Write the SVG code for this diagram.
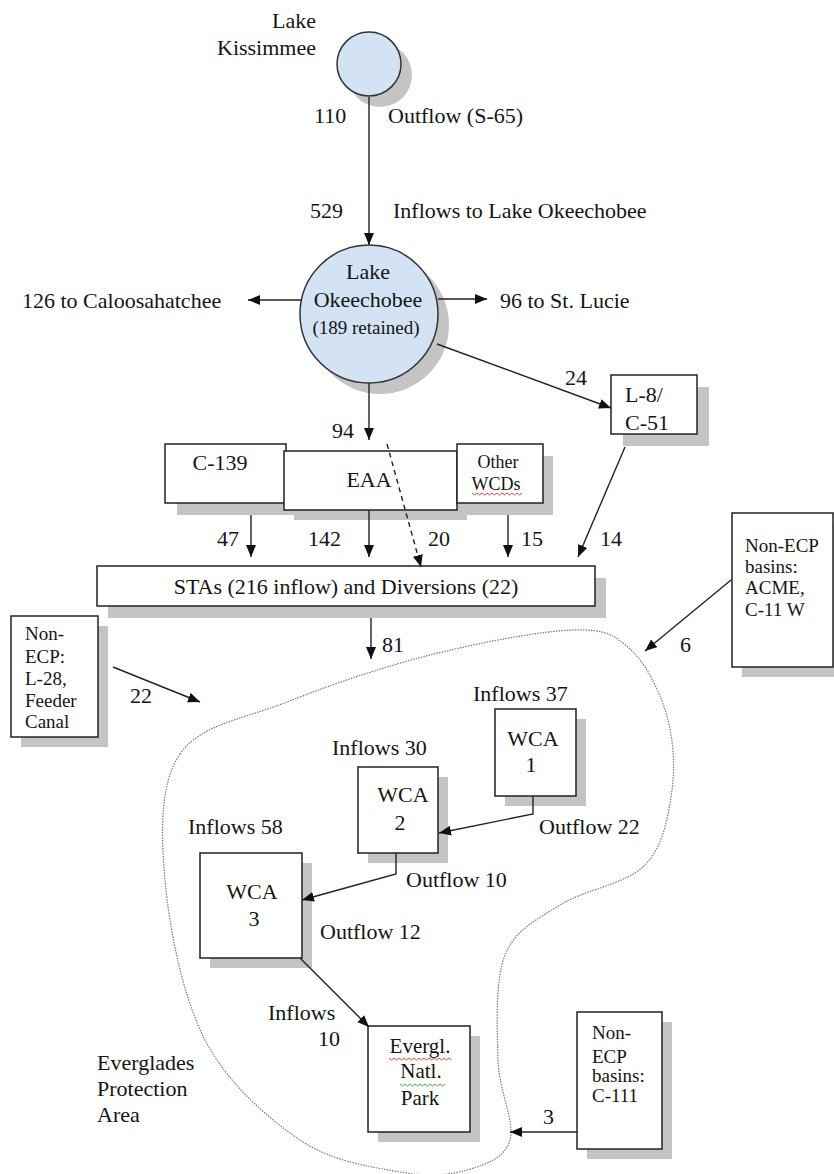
<svg xmlns="http://www.w3.org/2000/svg" width="834" height="1174" viewBox="0 0 834 1174">
<defs>
<marker id="ah" markerUnits="userSpaceOnUse" markerWidth="13" markerHeight="11" refX="12" refY="5" orient="auto">
<path d="M0,0 L12,5 L0,10 z" fill="#111"/>
</marker>
</defs>
<style>
text{font-family:"Liberation Serif","Times New Roman",serif;fill:#151515;font-size:22px}
.sm{font-size:19px}
.md{font-size:21px}
.box{fill:#fff;stroke:#222;stroke-width:1.5}
.sh{fill:#c4c4c4}
.lake{fill:#d3e3f3;stroke:#333;stroke-width:1.5}
.c{fill:none;stroke:#222;stroke-width:1.4}
.dash{stroke-dasharray:5 4}
.mid{text-anchor:middle}
.end{text-anchor:end}
.sq{fill:none;stroke-width:0.9}
</style>
<rect width="834" height="1174" fill="#fff"/>

<g id="boundary">
<path d="M180,754 C200.3,724.3 245.3,718.5 287,702 C328.7,685.5 382.3,667 430,655 C477.7,643 539.7,631 573,630 C606.3,629 614.5,635.2 630,649 C645.5,662.8 659,689.5 666,713 C673,736.5 675.5,764.7 672,790 C668.5,815.3 663.7,845.8 645,865 C626.3,884.2 583.3,890 560,905 C536.7,920 515.3,929.2 505,955 C494.7,980.8 497.2,1029.2 498,1060 C498.8,1090.8 515.2,1121.7 510,1140 C504.8,1158.3 485.3,1164.7 467,1170 C448.7,1175.3 427.8,1177 400,1172 C372.2,1167 332.5,1162 300,1140 C267.5,1118 227.5,1083.3 205,1040 C182.5,996.7 169.2,927.7 165,880 C160.8,832.3 159.7,783.7 180,754 Z" fill="none" stroke="#7a7a7a" stroke-width="1.2" stroke-dasharray="1.5 1.2"/>
</g>

<g id="lake-kissimmee">
<circle class="sh" cx="380" cy="75" r="32"/>
<circle class="lake" cx="369" cy="64" r="32"/>
<text class="end" x="316" y="28">Lake</text>
<text class="end" x="316" y="55">Kissimmee</text>
</g>

<g id="labels-top">
<text x="314" y="123">110</text>
<text x="388" y="123">Outflow (S-65)</text>
<text x="310" y="218">529</text>
<text x="393" y="218">Inflows to Lake Okeechobee</text>
<text x="22" y="308">126 to Caloosahatchee</text>
<text x="500" y="308">96 to St. Lucie</text>
<text x="565" y="385">24</text>
<text x="332" y="438">94</text>
</g>

<g id="lake-okeechobee">
<circle class="sh" cx="380" cy="325" r="69"/>
<circle class="lake" cx="369" cy="314" r="69"/>
<text class="mid" x="368" y="279">Lake</text>
<text class="mid" x="368" y="307">Okeechobee</text>
<text class="mid sm" x="366" y="334">(189 retained)</text>
</g>

<g id="l8-c51">
<rect class="sh" x="623" y="387" width="86" height="59"/>
<rect class="box" x="611" y="375" width="86" height="59"/>
<text x="625" y="402">L-8/</text>
<text x="625" y="430">C-51</text>
</g>

<g id="c139">
<rect class="sh" x="177" y="456" width="121" height="59"/>
<rect class="box" x="165" y="444" width="121" height="59"/>
<text class="mid" x="220" y="470">C-139</text>
</g>

<g id="eaa">
<rect class="sh" x="294" y="461" width="173" height="59"/>
<rect class="box" x="284" y="451" width="173" height="59"/>
<text class="mid" x="369" y="487">EAA</text>
</g>

<g id="other-wcds">
<rect class="sh" x="467" y="456" width="86" height="59"/>
<rect class="box" x="457" y="444" width="86" height="59"/>
<text class="mid" x="498" y="468" style="font-size:18px">Other</text>
<text class="mid" x="496" y="490" style="font-size:18px">WCDs</text>
<path class="sq" stroke="#e03030" d="M472,493 l2.5,2 l2.5,-2 l2.5,2 l2.5,-2 l2.5,2 l2.5,-2 l2.5,2 l2.5,-2 l2.5,2 l2.5,-2 l2.5,2 l2.5,-2 l2.5,2 l2.5,-2 l2.5,2 l2.5,-2 l2.5,2 l2.5,-2 l2.5,2 l2.5,-2"/>
</g>

<g id="flow-labels">
<text x="217" y="546">47</text>
<text x="308" y="546">142</text>
<text x="428" y="546">20</text>
<text x="521" y="546">15</text>
<text x="600" y="546">14</text>
<text x="382" y="652">81</text>
<text x="680" y="652">6</text>
<text x="130" y="703">22</text>
</g>

<g id="stas">
<rect class="sh" x="108" y="578" width="498" height="40"/>
<rect class="box" x="97" y="566" width="498" height="40"/>
<text class="mid" x="346" y="594">STAs (216 inflow) and Diversions (22)</text>
</g>

<g id="non-ecp-l28">
<rect class="sh" x="21" y="626" width="87" height="121"/>
<rect class="box" x="11" y="616" width="87" height="121"/>
<text class="sm" x="25" y="640">Non-</text>
<text class="sm" x="25" y="663">ECP:</text>
<text class="sm" x="25" y="685">L-28,</text>
<text class="sm" x="25" y="707">Feeder</text>
<text class="sm" x="25" y="728">Canal</text>
</g>

<g id="non-ecp-acme">
<rect class="sh" x="742" y="523" width="92" height="154"/>
<rect class="box" x="732" y="513" width="101" height="154"/>
<text class="sm" x="745" y="552">Non-ECP</text>
<text class="sm" x="745" y="573">basins:</text>
<text class="sm" x="745" y="594">ACME,</text>
<text class="sm" x="745" y="616">C-11 W</text>
</g>

<g id="wca1">
<text x="473" y="701">Inflows 37</text>
<rect class="sh" x="505" y="719" width="81" height="87"/>
<rect class="box" x="495" y="709" width="81" height="87"/>
<text class="mid" x="533" y="746">WCA</text>
<text class="mid" x="531" y="772">1</text>
</g>

<g id="wca2">
<text x="332" y="755">Inflows 30</text>
<rect class="sh" x="368" y="777" width="80" height="86"/>
<rect class="box" x="358" y="767" width="80" height="86"/>
<text class="mid" x="403" y="802">WCA</text>
<text class="mid" x="400" y="830">2</text>
<text x="539" y="834">Outflow 22</text>
</g>

<g id="wca3">
<text x="188" y="834">Inflows 58</text>
<rect class="sh" x="210" y="863" width="102" height="105"/>
<rect class="box" x="200" y="853" width="102" height="105"/>
<text class="mid" x="252" y="899">WCA</text>
<text class="mid" x="254" y="926">3</text>
<text x="406" y="887">Outflow 10</text>
<text x="320" y="939">Outflow 12</text>
</g>

<g id="everglades-np">
<text x="268" y="1020">Inflows</text>
<text x="318" y="1046">10</text>
<rect class="sh" x="378" y="1036" width="102" height="106"/>
<rect class="box" x="368" y="1026" width="102" height="106"/>
<text class="mid md" x="420" y="1053">Evergl.</text>
<text class="mid md" x="421" y="1078">Natl.</text>
<text class="mid md" x="420" y="1105">Park</text>
<path class="sq" stroke="#e03030" d="M389,1058 l2.5,2 l2.5,-2 l2.5,2 l2.5,-2 l2.5,2 l2.5,-2 l2.5,2 l2.5,-2 l2.5,2 l2.5,-2 l2.5,2 l2.5,-2 l2.5,2 l2.5,-2 l2.5,2 l2.5,-2 l2.5,2 l2.5,-2 l2.5,2 l2.5,-2 l2.5,2 l2.5,-2 l2.5,2 l2.5,-2 l2.5,2"/>
<path class="sq" stroke="#3aa040" d="M400,1084 l2.5,2 l2.5,-2 l2.5,2 l2.5,-2 l2.5,2 l2.5,-2 l2.5,2 l2.5,-2 l2.5,2 l2.5,-2 l2.5,2 l2.5,-2 l2.5,2 l2.5,-2 l2.5,2 l2.5,-2 l2.5,2 l2.5,-2"/>
</g>

<g id="non-ecp-c111">
<rect class="sh" x="587" y="1022" width="85" height="137"/>
<rect class="box" x="577" y="1012" width="85" height="137"/>
<text class="sm" x="592" y="1039">Non-</text>
<text class="sm" x="592" y="1063">ECP</text>
<text class="sm" x="592" y="1082">basins:</text>
<text class="sm" x="592" y="1102">C-111</text>
<text x="543" y="1124">3</text>
</g>

<g id="epa-label">
<text x="97" y="1070">Everglades</text>
<text x="97" y="1096">Protection</text>
<text x="97" y="1122">Area</text>
</g>

<g id="connectors">
<line class="c" x1="369" y1="97" x2="369" y2="245" stroke="#555" marker-end="url(#ah)"/>
<line class="c" x1="301" y1="300" x2="248" y2="300" marker-end="url(#ah)"/>
<line class="c" x1="438" y1="299" x2="487" y2="299" marker-end="url(#ah)"/>
<line class="c" x1="437" y1="344" x2="611" y2="408" marker-end="url(#ah)"/>
<line class="c" x1="369" y1="383" x2="369" y2="440" marker-end="url(#ah)"/>
<line class="c dash" x1="387" y1="444" x2="421" y2="567" marker-end="url(#ah)"/>
<line class="c" x1="251" y1="515" x2="251" y2="557" marker-end="url(#ah)"/>
<line class="c" x1="369" y1="510" x2="369" y2="557" marker-end="url(#ah)"/>
<line class="c" x1="508" y1="515" x2="508" y2="557" marker-end="url(#ah)"/>
<line class="c" x1="625" y1="447" x2="578" y2="557" marker-end="url(#ah)"/>
<line class="c" x1="371" y1="618" x2="371" y2="659" marker-end="url(#ah)"/>
<line class="c" x1="731" y1="580" x2="645" y2="651" marker-end="url(#ah)"/>
<line class="c" x1="113" y1="667" x2="200" y2="702" marker-end="url(#ah)"/>
<polyline class="c" points="533,796 533,814 439,833" marker-end="url(#ah)"/>
<polyline class="c" points="396,853 396,874 302,900" marker-end="url(#ah)"/>
<line class="c" x1="300" y1="958" x2="369" y2="1027" marker-end="url(#ah)"/>
<line class="c" x1="577" y1="1132" x2="510" y2="1132" marker-end="url(#ah)"/>
</g>
</svg>
